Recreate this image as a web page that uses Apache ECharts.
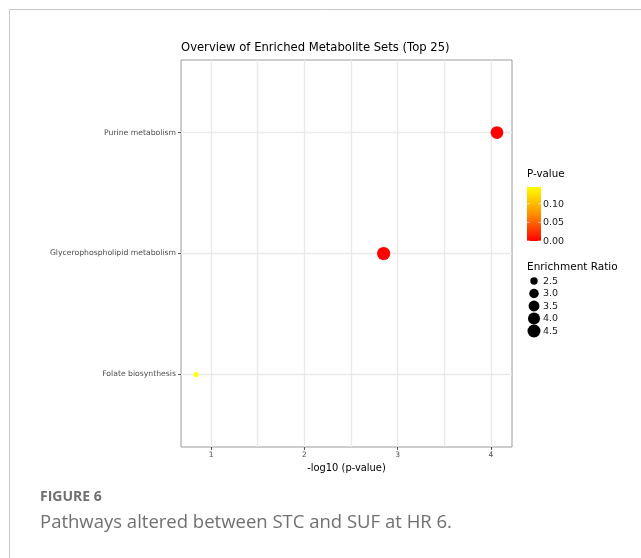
<!DOCTYPE html>
<html><head><meta charset="utf-8">
<script src="https://cdn.jsdelivr.net/npm/echarts@6/dist/echarts.min.js"></script>
<style>html,body{margin:0;padding:0;background:#fff}#c{width:641px;height:558px}</style>
</head><body><div id="c"></div>
<script>
// ---- data ----
const categories = ['Folate biosynthesis', 'Glycerophospholipid metabolism', 'Purine metabolism'];
const negLogP = [0.839, 2.85, 4.065];
const pValues = [0.145, 0.0014, 0.000086];
const enrichmentRatio = [2.3, 4.6, 4.3];
const xTicks = [1, 2, 3, 4];
const xMinor = [1.5, 2.5, 3.5];
const pTicks = [0.00, 0.05, 0.10];
const pTickLabels = ['0.00', '0.05', '0.10'];
const sizeBreaks = [2.5, 3.0, 3.5, 4.0, 4.5];
const sizeBreakLabels = ['2.5', '3.0', '3.5', '4.0', '4.5'];

// ---- scales ----
const rMin = Math.min(...enrichmentRatio), rMax = Math.max(...enrichmentRatio);
const pMax = Math.max(...pValues);
function dotSize(r) {
  const t = Math.max(0, (r - rMin) / (rMax - rMin));
  return 5 + 8.2 * Math.sqrt(t);
}

const chart = echarts.init(document.getElementById('c'), null, {renderer: 'canvas'});
const data = categories.map((c, i) => [negLogP[i], i + 1, enrichmentRatio[i], pValues[i]]);
const FONT = 'DejaVu Sans';

const gridLines = xTicks.concat(xMinor).map(v => ({xAxis: v}))
  .concat(categories.map((c, i) => ({yAxis: i + 1})));

// colour bar + legends
const cbX = 527, cbTop = 187, cbBottom = 241, cbW = 14;
const graphics = [];
// frame
graphics.push({type: 'line', shape: {x1: 9.5, y1: 9.5, x2: 641, y2: 9.5}, style: {stroke: '#c8c8c8', lineWidth: 1}});
graphics.push({type: 'line', shape: {x1: 9.5, y1: 9.5, x2: 9.5, y2: 558}, style: {stroke: '#c8c8c8', lineWidth: 1}});
// P-value legend
graphics.push({type: 'text', x: 527, y: 169, style: {text: 'P-value', font: '10.3px ' + FONT, fill: '#000'}});
graphics.push({type: 'rect', shape: {x: cbX, y: cbTop, width: cbW, height: cbBottom - cbTop},
  style: {fill: new echarts.graphic.LinearGradient(0, 1, 0, 0, [{offset: 0, color: '#ff0000'}, {offset: 0.5, color: '#ff9000'}, {offset: 1, color: '#ffff00'}])}});
pTicks.forEach((p, i) => {
  const y = cbBottom - (p / pMax) * (cbBottom - cbTop);
  graphics.push({type: 'text', x: 543, y: y + 0.5, style: {text: pTickLabels[i], font: '9.5px ' + FONT, fill: '#1a1a1a', verticalAlign: 'middle'}});
  graphics.push({type: 'line', shape: {x1: cbX, y1: y, x2: cbX + 3, y2: y}, style: {stroke: '#fff', lineWidth: 0.6}});
  graphics.push({type: 'line', shape: {x1: cbX + cbW - 3, y1: y, x2: cbX + cbW, y2: y}, style: {stroke: '#fff', lineWidth: 0.6}});
});
// Enrichment Ratio legend
graphics.push({type: 'text', x: 527, y: 262, style: {text: 'Enrichment Ratio', font: '10.5px ' + FONT, fill: '#000'}});
sizeBreaks.forEach((r, i) => {
  const y = 281 + i * 12.5;
  graphics.push({type: 'circle', shape: {cx: 534, cy: y, r: dotSize(r) / 2}, style: {fill: '#000'}});
  graphics.push({type: 'text', x: 543, y: y + 0.5, style: {text: sizeBreakLabels[i], font: '9.5px ' + FONT, fill: '#1a1a1a', verticalAlign: 'middle'}});
});
// caption
graphics.push({type: 'text', x: 40, y: 490, style: {text: 'FIGURE 6', font: 'bold 14px "Open Sans"', fill: '#707070'}});
graphics.push({type: 'text', x: 40, y: 513, style: {text: 'Pathways altered between STC and SUF at HR 6.', font: '18.5px "Open Sans"', fill: '#707070'}});

chart.setOption({
  animation: false,
  backgroundColor: '#fff',
  title: {text: 'Overview of Enriched Metabolite Sets (Top 25)', left: 181, top: 42, padding: 0,
    textStyle: {fontSize: 11.6, fontWeight: 'normal', color: '#000', fontFamily: FONT}},
  grid: {left: 181, top: 60, width: 331, height: 387, show: true, borderColor: '#9a9a9a', borderWidth: 1, backgroundColor: 'transparent'},
  xAxis: {
    type: 'value', min: 0.678, max: 4.226,
    name: '-log10 (p-value)', nameLocation: 'middle', nameGap: 13,
    nameTextStyle: {fontSize: 9.9, color: '#000', fontFamily: FONT},
    axisLine: {show: false},
    axisTick: {show: true, length: 3, lineStyle: {color: '#555'}, customValues: xTicks},
    axisLabel: {fontSize: 7.5, color: '#4d4d4d', fontFamily: FONT, margin: 4, customValues: xTicks},
    splitLine: {show: false}
  },
  yAxis: {
    type: 'value', min: 0.4, max: 3.6,
    axisLine: {show: false},
    axisTick: {show: true, length: 3, lineStyle: {color: '#555'}, customValues: [1, 2, 3]},
    axisLabel: {fontSize: 7.7, color: '#4d4d4d', fontFamily: FONT, margin: 5, customValues: [1, 2, 3],
      formatter: v => categories[Math.round(v) - 1] || ''},
    splitLine: {show: false}
  },
  visualMap: {show: false, type: 'continuous', dimension: 3, min: 0, max: pMax, seriesIndex: 1,
    inRange: {color: ['#ff0000', '#ffff00']}},
  series: [
    {type: 'scatter', data: [], z: 1, zlevel: 0, silent: true,
      markLine: {silent: true, symbol: 'none', label: {show: false}, animation: false,
        lineStyle: {color: '#e9e9e9', type: 'solid', width: 1.3}, data: gridLines}},
    {type: 'scatter', z: 3, zlevel: 1, data: data, symbol: 'circle',
      symbolSize: d => dotSize(d[2]), itemStyle: {opacity: 1}}
  ],
  graphic: graphics
});
</script></body></html>
